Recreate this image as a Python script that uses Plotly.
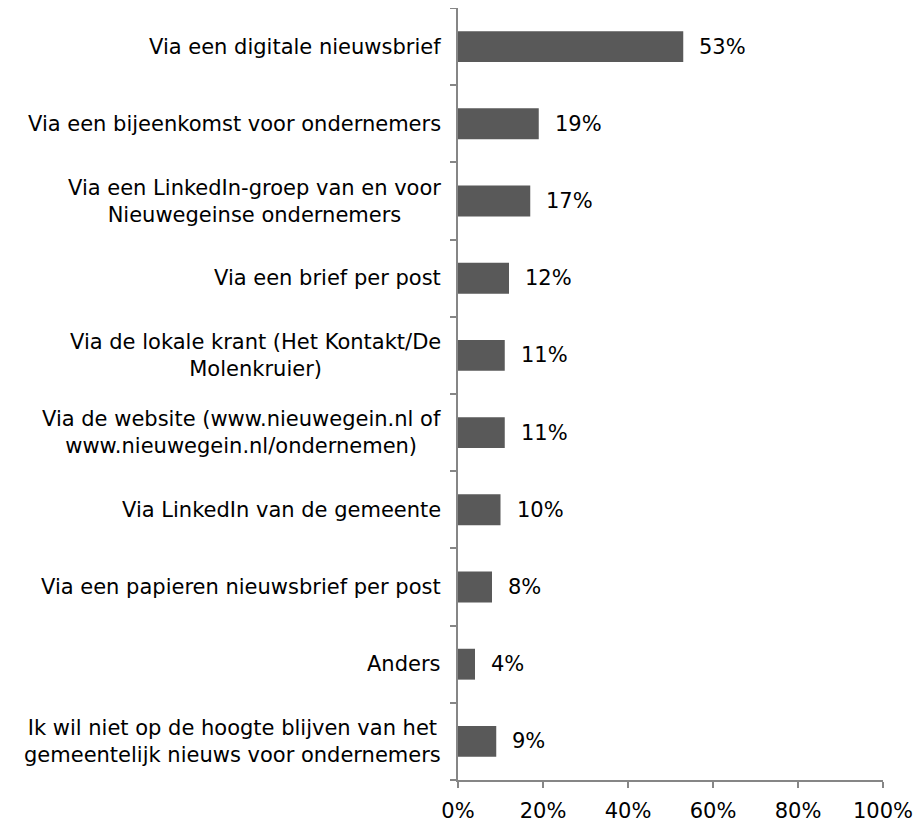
import plotly.graph_objects as go

categories = [
    "Via een digitale nieuwsbrief",
    "Via een bijeenkomst voor ondernemers",
    "Via een LinkedIn-groep van en voor<br>Nieuwegeinse ondernemers",
    "Via een brief per post",
    "Via de lokale krant (Het Kontakt/De<br>Molenkruier)",
    "Via de website (www.nieuwegein.nl of<br>www.nieuwegein.nl/ondernemen)",
    "Via LinkedIn van de gemeente",
    "Via een papieren nieuwsbrief per post",
    "Anders",
    "Ik wil niet op de hoogte blijven van het<br>gemeentelijk nieuws voor ondernemers",
]
values = [53, 19, 17, 12, 11, 11, 10, 8, 4, 9]
x_ticks = [0, 20, 40, 60, 80, 100]

FONT = "DejaVu Sans, Verdana, sans-serif"
FS = 21
AXIS_COLOR = "#868686"
BAR_COLOR = "#595959"

fig = go.Figure()
fig.add_trace(go.Bar(
    y=list(range(len(categories))),
    x=values,
    orientation="h",
    marker=dict(color=BAR_COLOR, line=dict(width=0)),
    width=0.4,
    hoverinfo="skip",
))

annotations = []
for i, (c, v) in enumerate(zip(categories, values)):
    annotations.append(dict(
        x=0, y=i, xref="paper", yref="y", text=c, showarrow=False,
        xanchor="right", yanchor="middle", align="center", xshift=-15,
        font=dict(family=FONT, size=FS, color="#000000"),
    ))
    annotations.append(dict(
        x=v, y=i, xref="x", yref="y", text=f"{v}%", showarrow=False,
        xanchor="left", yanchor="middle", xshift=14,
        font=dict(family=FONT, size=FS, color="#000000"),
    ))

fig.update_layout(
    width=916, height=815,
    margin=dict(l=450, r=41, t=0, b=43, autoexpand=False),
    paper_bgcolor="white", plot_bgcolor="white",
    showlegend=False,
    annotations=annotations,
    xaxis=dict(
        range=[0, 100], tickvals=x_ticks, ticktext=[f"{t}%" for t in x_ticks],
        showgrid=False, zeroline=False, showline=True, linecolor=AXIS_COLOR,
        linewidth=1.5, ticks="outside", ticklen=6, tickcolor=AXIS_COLOR,
        tickwidth=1.5, tickfont=dict(family=FONT, size=FS, color="#000000"),
        ticklabelstandoff=5,
        fixedrange=True, automargin=False,
    ),
    yaxis=dict(
        type="linear", range=[len(categories) - 0.5, -0.5],
        tickvals=[i - 0.5 for i in range(len(categories) + 1)],
        showticklabels=False, showgrid=False, zeroline=False, showline=True,
        linecolor=AXIS_COLOR, linewidth=1.5, ticks="outside", ticklen=6,
        tickcolor=AXIS_COLOR, tickwidth=1.5, fixedrange=True, automargin=False,
    ),
)

fig.write_html("out.html")
